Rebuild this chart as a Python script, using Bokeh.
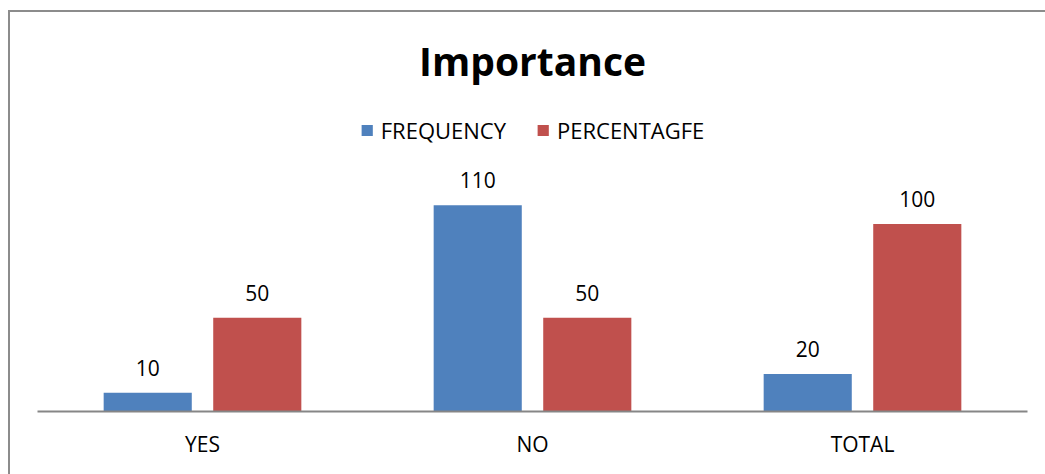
from bokeh.plotting import figure
from bokeh.models import ColumnDataSource, FactorRange, Range1d, Legend, LegendItem, LabelSet
from bokeh.transform import dodge
from bokeh.core.properties import value
from bokeh.embed import file_html
from bokeh.resources import INLINE

categories = ["YES", "NO", "TOTAL"]
frequency = [10, 110, 20]
percentage = [50, 50, 100]
series_names = ["FREQUENCY", "PERCENTAGFE"]

BLUE = "#4F81BD"
RED = "#C0504D"
FONT = "Open Sans"

src = ColumnDataSource(dict(
    cat=categories, freq=frequency, pct=percentage,
    freq_lbl=[str(v) for v in frequency], pct_lbl=[str(v) for v in percentage],
))

p = figure(width=1037, height=464, output_backend="svg", toolbar_location=None,
           x_range=FactorRange(*categories, range_padding=0),
           y_range=Range1d(0, 169.5),
           min_border_left=27, min_border_right=20, min_border_top=81, min_border_bottom=65)
p.margin = (10, 0, 0, 8)
p.styles = {"border-left": "2px solid #8c8c8c", "border-top": "2px solid #8c8c8c", "box-sizing": "border-box"}

p.title.text = "Importance"
p.title.align = "center"
p.title.text_font = FONT
p.title.text_font_size = "39px"
p.title.text_font_style = "bold"
p.title.text_color = "#000000"
p.title.offset = 0
p.title.standoff = 13

r1 = p.vbar(x=dodge("cat", -0.166, range=p.x_range), top="freq", width=0.267, source=src,
            fill_color=BLUE, line_color=None)
r2 = p.vbar(x=dodge("cat", 0.166, range=p.x_range), top="pct", width=0.267, source=src,
            fill_color=RED, line_color=None)

for xcol_off, ycol, tcol in [(-0.166, "freq", "freq_lbl"), (0.166, "pct", "pct_lbl")]:
    p.add_layout(LabelSet(x=dodge("cat", xcol_off, range=p.x_range), y=ycol, text=tcol, source=src,
                          text_align="center", text_baseline="bottom", y_offset=17,
                          text_font=value(FONT), text_font_size=value("21px"), text_color="#000000"))

legend = Legend(items=[LegendItem(label=series_names[0], renderers=[r1]),
                       LegendItem(label=series_names[1], renderers=[r2])],
                orientation="horizontal", location="top_center",
                label_text_font=FONT, label_text_font_size="22px", label_text_color="#000000",
                glyph_width=14, glyph_height=14, label_standoff=7, spacing=30,
                border_line_color=None, background_fill_alpha=0, padding=0, margin=22)
p.add_layout(legend)

p.xaxis.axis_line_color = "#868686"
p.xaxis.axis_line_width = 2
p.xaxis.major_tick_line_color = None
p.xaxis.minor_tick_line_color = None
p.xaxis.major_label_standoff = 12
p.xaxis.major_label_text_font = FONT
p.xaxis.major_label_text_font_size = "21px"
p.xaxis.major_label_text_color = "#000000"
p.yaxis.visible = False
p.xgrid.grid_line_color = None
p.ygrid.grid_line_color = None
p.outline_line_color = None

open("out.html", "w").write(file_html(p, INLINE))
